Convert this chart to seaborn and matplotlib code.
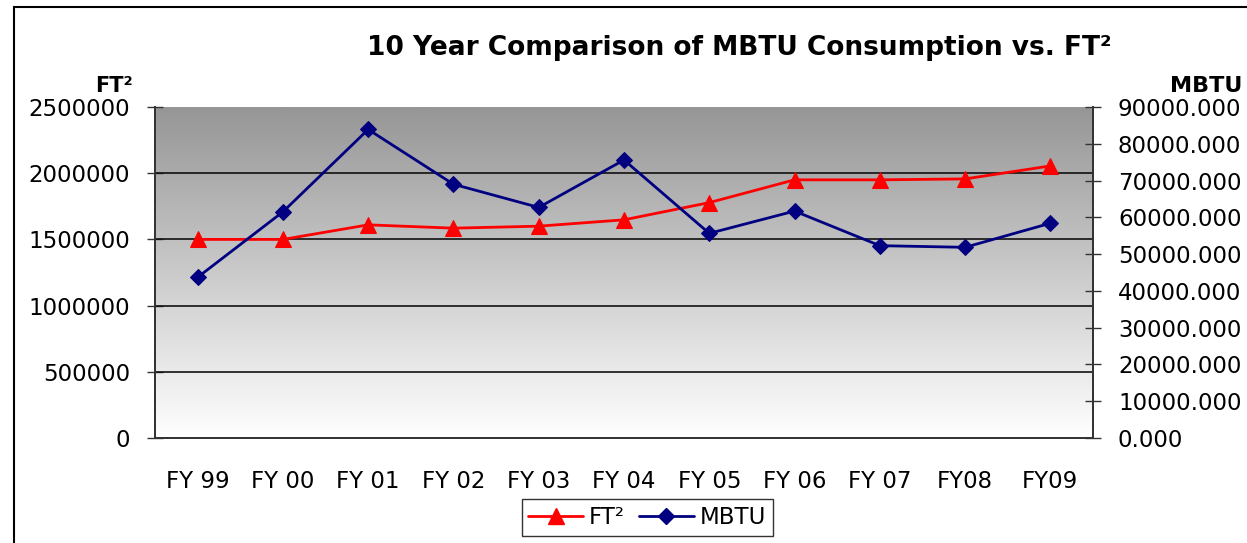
import numpy as np
import pandas as pd
import matplotlib
matplotlib.use("Agg")
import matplotlib.pyplot as plt
from matplotlib.patches import Rectangle
from matplotlib.ticker import FormatStrFormatter, FixedLocator
import seaborn as sns

YEARS = ["FY 99", "FY 00", "FY 01", "FY 02", "FY 03", "FY 04",
         "FY 05", "FY 06", "FY 07", "FY08", "FY09"]
FT2 = [1500000, 1500000, 1610000, 1585000, 1600000, 1648000,
       1778000, 1950000, 1950000, 1957000, 2055000]
MBTU = [43700, 61500, 83900, 69000, 62700, 75600,
        55650, 61700, 52300, 51850, 58400]

RED = "#FF0000"
NAVY = "#000080"

sns.set_style("white")
plt.rcParams["font.family"] = ["DejaVu Sans"]
plt.rcParams["text.color"] = "black"
plt.rcParams["xtick.color"] = "black"
plt.rcParams["ytick.color"] = "black"

df = pd.DataFrame({"year": YEARS, "ft2": FT2, "mbtu": MBTU})
pos = np.arange(len(YEARS))

fig = plt.figure(figsize=(12.47, 5.43), dpi=100)
ax = fig.add_axes([0.1243, 0.1934, 0.7522, 0.6095])
ax2 = ax.twinx()

# gradient background: dark gray at top fading to white
grad = np.linspace(0, 1, 256).reshape(-1, 1)
cmap = matplotlib.colors.LinearSegmentedColormap.from_list(
    "g", ["#969696", "#FFFFFF"])
ax.imshow(grad, cmap=cmap, aspect="auto", extent=[0, 1, 0, 1],
          transform=ax.transAxes, zorder=0)

for v in [500000, 1000000, 1500000, 2000000]:
    ax.axhline(v, color="#111111", lw=1.2, zorder=1)

sns.lineplot(x=pos, y=df["ft2"], ax=ax, color=RED, lw=2, marker="^",
             markersize=11, markeredgecolor=RED, zorder=3, legend=False)
sns.lineplot(x=pos, y=df["mbtu"], ax=ax2, color=NAVY, lw=2, marker="D",
             markersize=8, markeredgecolor=NAVY, zorder=3, legend=False)

ax.set_xlim(-0.5, len(YEARS) - 0.5)
ax.set_ylim(0, 2500000)
ax2.set_ylim(0, 90000)
ax.set_yticks(np.arange(0, 2500001, 500000))
ax2.set_yticks(np.arange(0, 90001, 10000))
ax.yaxis.set_major_formatter(FormatStrFormatter("%d"))
ax2.yaxis.set_major_formatter(FormatStrFormatter("%.3f"))

ax.set_xticks(pos)
ax.set_xticklabels(YEARS)
ax.xaxis.set_minor_locator(FixedLocator(np.arange(-0.5, len(YEARS), 1.0)))
ax.tick_params(axis="x", which="major", length=0, pad=23, labelsize=16.5,
               labelcolor="black")
ax.tick_params(axis="x", which="minor", length=12, direction="inout",
               width=1, color="#333333")
ax.tick_params(axis="y", length=12, direction="inout", width=1,
               color="#333333", labelsize=16.5, pad=12, labelcolor="black")
ax2.tick_params(axis="y", length=12, direction="inout", width=1,
                color="#333333", labelsize=16.5, pad=12, labelcolor="black")
ax.set_xlabel("")
ax.set_ylabel("")
ax2.set_ylabel("")

for a in (ax, ax2):
    a.spines["top"].set_visible(False)
    for s in ("left", "right", "bottom"):
        a.spines[s].set_color("#333333")
        a.spines[s].set_linewidth(1.3)
ax2.patch.set_visible(False)

fig.text(0.5926, 0.8987, "10 Year Comparison of MBTU Consumption vs. FT²",
         ha="center", va="baseline", fontsize=19, fontweight="bold",
         color="black")
fig.text(0.1067, 0.8306, "FT²", ha="right", va="baseline", fontsize=15,
         fontweight="bold", color="black")
fig.text(0.996, 0.8306, "MBTU", ha="right", va="baseline", fontsize=16,
         fontweight="bold", color="black")

handles = [
    plt.Line2D([], [], color=RED, lw=2, marker="^", markersize=11),
    plt.Line2D([], [], color=NAVY, lw=2, marker="D", markersize=8),
]
leg = fig.legend(handles, ["FT²", "MBTU"], loc="center",
                 bbox_to_anchor=(0.519, 0.047), ncol=2, fontsize=16.5,
                 frameon=True, fancybox=False, handlelength=2.4,
                 handletextpad=0.25, columnspacing=0.6, borderpad=0.3,
                 borderaxespad=0, labelcolor="black")
leg.get_frame().set_edgecolor("#000000")
leg.get_frame().set_linewidth(1)

fig.patches.append(Rectangle((0.0112, -0.05), 1.05, 1.037, fill=False,
                             edgecolor="#000000", lw=1.5,
                             transform=fig.transFigure, figure=fig))

fig.savefig("out.png", dpi=100)
